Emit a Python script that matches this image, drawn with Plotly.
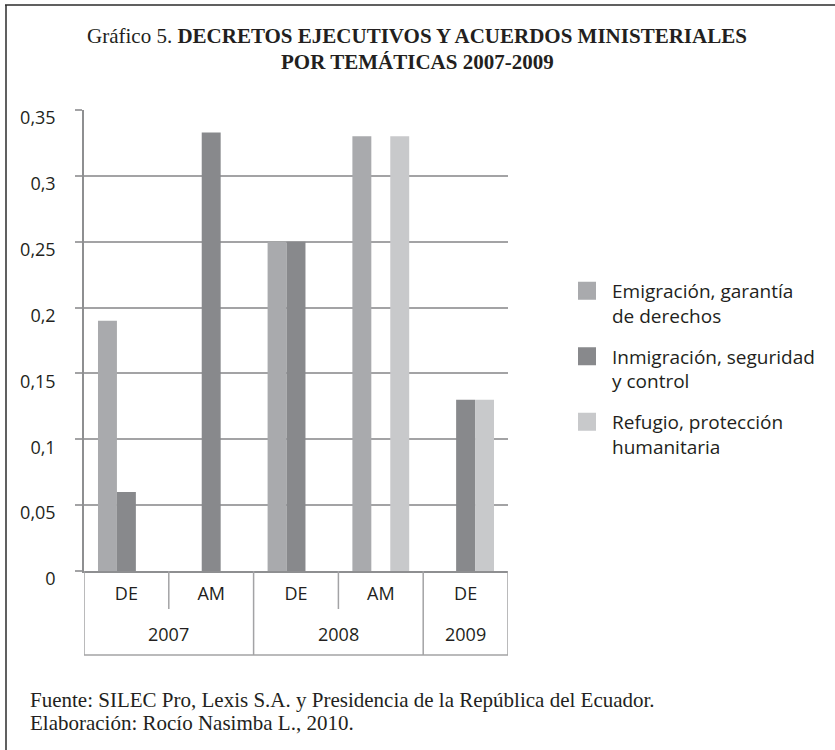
import plotly.graph_objects as go

# ---- data ----
years = ["2007", "2007", "2008", "2008", "2009"]
types = ["DE", "AM", "DE", "AM", "DE"]
series_names = ["Emigración, garantía<br>de derechos",
                "Inmigración, seguridad<br>y control",
                "Refugio, protección<br>humanitaria"]
emigracion = [0.19, None, 0.25, 0.33, None]
inmigracion = [0.06, 0.333, 0.25, None, 0.13]
refugio = [None, None, None, 0.33, 0.13]
y_ticks = [0, 0.05, 0.1, 0.15, 0.2, 0.25, 0.3, 0.35]
title_line1 = "Gráfico 5. <b>DECRETOS EJECUTIVOS Y ACUERDOS MINISTERIALES</b>"
title_line2 = "<b>POR TEMÁTICAS 2007-2009</b>"
source_line1 = "Fuente: SILEC Pro, Lexis S.A. y Presidencia de la República del Ecuador."
source_line2 = "Elaboración: Rocío Nasimba L., 2010."
colors = ["#a9aaad", "#88898c", "#c8c9cb"]

W, H = 835, 750
ML, MR, MT, MB = 84, 327, 110, 179
PW, PH = W - ML - MR, H - MT - MB

def px_x(p):  # page px -> paper x
    return (p - ML) / PW

def px_y(p):  # page px (from top) -> paper y
    return (H - MB - p) / PH

text_col = "#231f20"
sans = "Open Sans"
serif = "Liberation Serif"

x_idx = list(range(len(types)))
fig = go.Figure()
for name, vals, col in zip(series_names, [emigracion, inmigracion, refugio], colors):
    fig.add_trace(go.Bar(x=x_idx, y=vals, name=name, marker_color=col,
                         marker_line_width=0, showlegend=False))
# legend entries (square symbols)
for i, (name, col) in enumerate(zip(series_names, colors)):
    fig.add_trace(go.Scatter(x=[None], y=[None], mode="markers", name=name,
                             legendgroup=str(i),
                             marker=dict(symbol="square", size=16, color=col,
                                         line=dict(color=col, width=2))))

line_col = "#a3a3a5"
shapes = []
n = len(types)
bounds_full = [-0.5, n - 0.5]
bounds_sub = []
for i in range(1, n):
    if years[i] != years[i - 1]:
        bounds_full.append(i - 0.5)
    else:
        bounds_sub.append(i - 0.5)
for b in bounds_full:
    shapes.append(dict(type="line", xref="x", yref="paper", ysizemode="pixel", yanchor=0,
                       x0=b, x1=b, y0=0, y1=-84, line=dict(color=line_col, width=1.5)))
for b in bounds_sub:
    shapes.append(dict(type="line", xref="x", yref="paper", ysizemode="pixel", yanchor=0,
                       x0=b, x1=b, y0=0, y1=-38, line=dict(color=line_col, width=1.5)))
shapes.append(dict(type="line", xref="x", yref="paper", ysizemode="pixel", yanchor=0,
                   x0=-0.5, x1=n - 0.5, y0=-84, y1=-84, line=dict(color=line_col, width=1.5)))
# outer frame (top and left)
shapes.append(dict(type="line", xref="paper", yref="paper", x0=px_x(5), x1=px_x(840),
                   y0=px_y(5), y1=px_y(5), line=dict(color="#2b2b2b", width=1.5)))
shapes.append(dict(type="line", xref="paper", yref="paper", x0=px_x(6), x1=px_x(6),
                   y0=px_y(5), y1=px_y(760), line=dict(color="#2b2b2b", width=1.5)))

annotations = []
groups = []
for i, yv in enumerate(years):
    if groups and groups[-1][0] == yv:
        groups[-1][2] = i
    else:
        groups.append([yv, i, i])
for yv, a, b in groups:
    annotations.append(dict(text=yv, x=(a + b) / 2, xref="x", y=0, yref="paper",
                            yshift=-63, showarrow=False, yanchor="middle",
                            font=dict(family=sans, size=18, color=text_col)))
for txt, yy in [(title_line1, 36), (title_line2, 62)]:
    annotations.append(dict(text=txt, x=px_x(417), y=px_y(yy), xref="paper", yref="paper",
                            xanchor="center", yanchor="middle", showarrow=False,
                            font=dict(family=serif, size=21, color=text_col)))
for txt, yy in [(source_line1, 700), (source_line2, 723)]:
    annotations.append(dict(text=txt, x=px_x(28), y=px_y(yy), xref="paper", yref="paper",
                            xanchor="left", yanchor="middle", showarrow=False,
                            font=dict(family=serif, size=21, color=text_col)))

fig.update_layout(
    width=W, height=H,
    margin=dict(l=ML, r=MR, t=MT, b=MB),
    paper_bgcolor="white", plot_bgcolor="white",
    separators=",.",
    barmode="group", bargap=0.33, bargroupgap=0,
    xaxis=dict(range=[-0.5, n - 0.5], tickvals=x_idx, ticktext=types,
               showgrid=False, zeroline=False, showline=True, linecolor="#8e8f91",
               linewidth=1.5, ticks="", ticklabelstandoff=6,
               tickfont=dict(family=sans, size=18, color=text_col)),
    yaxis=dict(range=[0, 0.35], tickvals=y_ticks, showgrid=True, gridcolor=line_col,
               gridwidth=1.5, zeroline=False, showline=True, linecolor="#8e8f91",
               linewidth=1.5, ticks="outside", ticklen=7, tickcolor=line_col, tickwidth=1.5,
               ticklabelshift=8, ticklabelstandoff=16,
               tickfont=dict(family=sans, size=18, color=text_col)),
    legend=dict(x=px_x(562), y=px_y(272), xanchor="left", yanchor="top",
                valign="top", tracegroupgap=13, itemwidth=40,
                font=dict(family=sans, size=19, color=text_col)),
    shapes=shapes, annotations=annotations,
)
fig.write_html("out.html", config={"displayModeBar": False},
               post_script="document.body.style.margin='0';")
